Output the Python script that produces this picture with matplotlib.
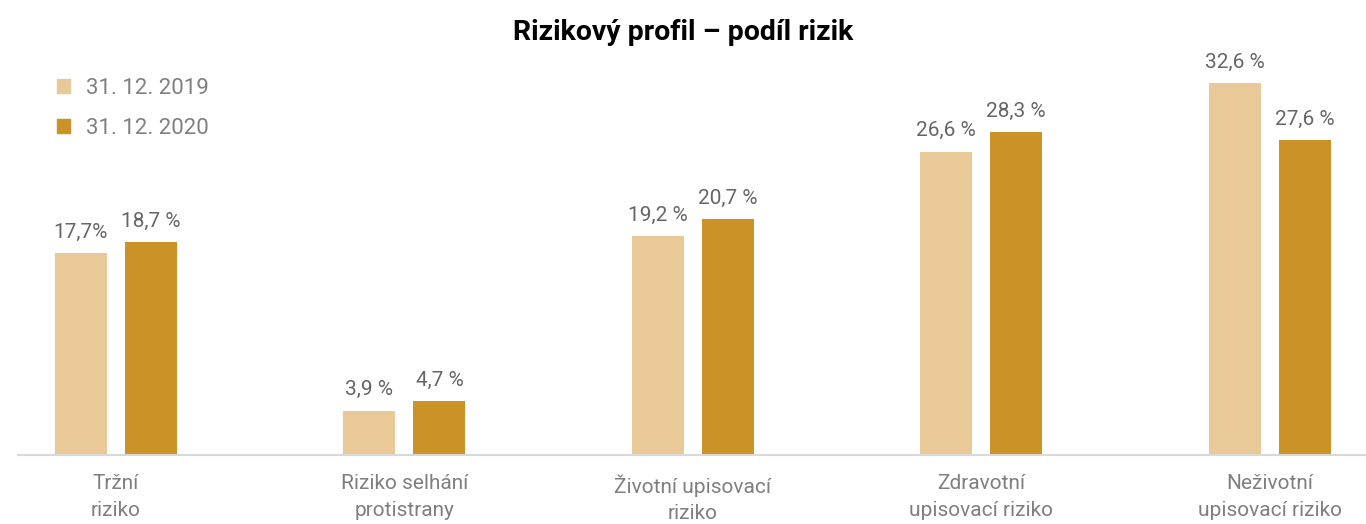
import numpy as np
import matplotlib.pyplot as plt
from matplotlib.patches import Patch

plt.rcParams['font.family'] = ['Roboto', 'DejaVu Sans']

categories = ['Tržní\nriziko', 'Riziko selhání\nprotistrany', 'Životní upisovací\nriziko',
              'Zdravotní\nupisovací riziko', 'Neživotní\nupisovací riziko']
series_names = ['31. 12. 2019', '31. 12. 2020']
values_2019 = [17.7, 3.9, 19.2, 26.6, 32.6]
values_2020 = [18.7, 4.7, 20.7, 28.3, 27.6]
labels_2019 = ['17,7%', '3,9 %', '19,2 %', '26,6 %', '32,6 %']
labels_2020 = ['18,7 %', '4,7 %', '20,7 %', '28,3 %', '27,6 %']

c_light = '#E8C997'
c_dark = '#CB9227'
grey = '#666666'

fig = plt.figure(figsize=(13.66, 5.24), dpi=100)
ax = fig.add_axes([18 / 1366, 69 / 524, 1348 / 1366, 455 / 524])

x = np.arange(len(categories))
w = 52 / 288
off = 35 / 288
ax.bar(x - off, values_2019, width=w, color=c_light)
ax.bar(x + off, values_2020, width=w, color=c_dark)

for xi, v, lab in zip(x, values_2019, labels_2019):
    ax.text(xi - off, v + 1.0, lab, ha='center', va='bottom', fontsize=15, color=grey)
for xi, v, lab in zip(x, values_2020, labels_2020):
    ax.text(xi + off, v + 1.0, lab, ha='center', va='bottom', fontsize=15, color=grey)

ax.set_xlim((18 - 116) / 288.4, (1366 - 116) / 288.4)
ax.set_ylim(0, 455 / 11.4)
ax.set_xticks(x)
ax.set_xticklabels(categories, fontsize=15, color='#7f7f7f', linespacing=1.5)
ax.tick_params(axis='x', length=0, pad=14)
ax.set_yticks([])
for s in ['top', 'left', 'right']:
    ax.spines[s].set_visible(False)
ax.spines['bottom'].set_color('#d9d9d9')
ax.spines['bottom'].set_linewidth(1.5)

fig.text(0.5, 1 - 32 / 524, 'Rizikový profil – podíl rizik', ha='center', va='center',
         fontsize=20.5, fontweight='bold', color='black')

handles = [Patch(color=c_light), Patch(color=c_dark)]
leg = fig.legend(handles, series_names, loc='upper left', bbox_to_anchor=(37 / 1366, 1 - 58 / 524),
                 frameon=False, fontsize=16, handlelength=0.6, handleheight=0.6,
                 handletextpad=0.7, labelspacing=0.85)
for t in leg.get_texts():
    t.set_color('#808080')

fig.savefig('out.png', dpi=100)
